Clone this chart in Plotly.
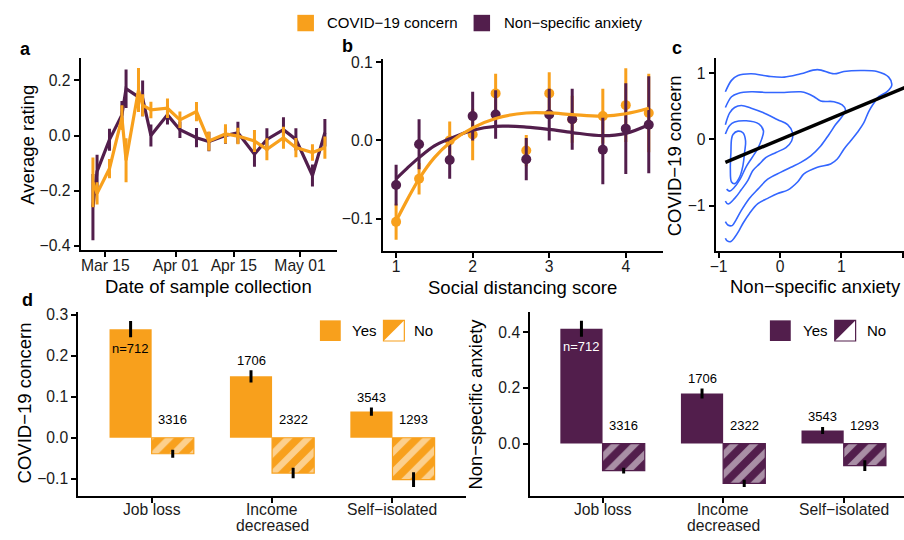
import plotly.graph_objects as go

ORANGE = "#F8A01C"
PURPLE = "#521E4C"
BLUE = "#3366FF"
FONT = "Liberation Sans"

# ---------------- panel a: time series ----------------
dates = ["2020-03-12", "2020-03-13", "2020-03-16", "2020-03-19", "2020-03-20",
         "2020-03-23", "2020-03-24", "2020-03-26", "2020-03-30", "2020-04-02",
         "2020-04-06", "2020-04-09", "2020-04-13", "2020-04-16", "2020-04-20",
         "2020-04-23", "2020-04-27", "2020-04-30", "2020-05-04", "2020-05-07"]
covid_a = [-0.17, -0.21, -0.12, 0.065, -0.09, 0.165, 0.11, 0.093, 0.099, 0.057,
           0.087, -0.02, 0.006, -0.002, -0.02, -0.05, -0.008, -0.044, -0.062, -0.044]
covid_a_err = [0.09, 0.04, 0.035, 0.045, 0.08, 0.08, 0.04, 0.03, 0.035, 0.03,
               0.035, 0.035, 0.035, 0.03, 0.04, 0.04, 0.04, 0.035, 0.03, 0.04]
anx_a = [-0.26, -0.13, -0.015, 0.075, 0.17, 0.14, 0.135, 0.0, 0.075, 0.021,
         -0.008, -0.022, 0.0, 0.01, -0.068, -0.014, 0.021, -0.014, -0.145, 0.01]
anx_a_err = [0.12, 0.06, 0.04, 0.05, 0.07, 0.05, 0.065, 0.04, 0.035, 0.03,
             0.035, 0.035, 0.03, 0.04, 0.045, 0.04, 0.045, 0.04, 0.04, 0.05]
a_tickvals = ["2020-03-15", "2020-04-01", "2020-04-15", "2020-05-01"]
a_ticktext = ["Mar 15", "Apr 01", "Apr 15", "May 01"]

# ---------------- panel b: social distancing ----------------
sd_x = [1, 1.3, 1.7, 2, 2.3, 2.7, 3, 3.3, 3.7, 4, 4.3]
covid_b = [-0.104, -0.049, 0.0, 0.0075, 0.06, -0.013, 0.06, 0.027, 0.031, 0.045, 0.035]
covid_b_err = [0.023, 0.02, 0.024, 0.033, 0.025, 0.02, 0.027, 0.03, 0.035, 0.047, 0.05]
anx_b = [-0.057, -0.005, -0.025, 0.031, 0.033, -0.024, 0.033, 0.027, -0.012, 0.015, 0.02]
anx_b_err = [0.026, 0.032, 0.024, 0.031, 0.031, 0.027, 0.033, 0.039, 0.044, 0.058, 0.062]
curve_x = [1, 1.15, 1.3, 1.5, 1.7, 2.0, 2.3, 2.7, 3.0, 3.3, 3.7, 4.0, 4.3]
covid_curve = [-0.103, -0.075, -0.049, -0.022, -0.003, 0.016, 0.028, 0.035, 0.035, 0.033, 0.031, 0.034, 0.041]
anx_curve = [-0.049, -0.035, -0.022, -0.007, 0.002, 0.013, 0.018, 0.017, 0.014, 0.01, 0.006, 0.009, 0.02]

# ---------------- panel c: density contours ----------------
c1_x = [-0.89, -0.79, -0.685, -0.469, -0.2, 0.07, 0.339, 0.609, 0.879, 1.04, 1.31, 1.58, 1.77, 1.82,
        1.74, 1.608, 1.527, 1.445, 1.364, 1.256, 1.149, 1.04, 0.933, 0.825, 0.609, 0.394, 0.286,
        0.124, -0.038, -0.2, -0.361, -0.5, -0.6, -0.67, -0.74, -0.8, -0.86, -0.89]
c1_y = [0.717, 0.889, 0.963, 0.988, 0.953, 0.938, 0.988, 1.052, 0.988, 1.023, 1.038, 1.023, 0.938, 0.815,
        0.717, 0.643, 0.544, 0.42, 0.247, 0.099, -0.024, -0.148, -0.296, -0.37, -0.42, -0.518, -0.642,
        -0.765, -0.815, -0.889, -0.97, -1.12, -1.26, -1.38, -1.48, -1.54, -1.53, -1.49]
c2_x = [-0.89, -0.79, -0.685, -0.469, -0.2, 0.07, 0.339, 0.447, 0.555, 0.663, 0.879, 1.013, 1.067,
        1.013, 0.906, 0.798, 0.663, 0.501, 0.339, 0.178, 0.016, -0.2, -0.36, -0.5, -0.63, -0.72,
        -0.78, -0.85, -0.89]
c2_y = [0.48, 0.643, 0.692, 0.717, 0.707, 0.707, 0.717, 0.692, 0.643, 0.578, 0.568, 0.519, 0.445,
        0.346, 0.223, 0.074, -0.099, -0.247, -0.346, -0.42, -0.494, -0.6, -0.75, -0.89, -1.07, -1.22,
        -1.3, -1.29, -1.24]
c3_x = [-0.89, -0.82, -0.74, -0.63, -0.469, -0.254, -0.038, 0.124, 0.205, 0.189, 0.097, -0.065,
        -0.227, -0.334, -0.442, -0.523, -0.631, -0.739, -0.846, -0.89]
c3_y = [0.22, 0.4, 0.48, 0.51, 0.47, 0.395, 0.297, 0.223, 0.099, -0.024, -0.123, -0.197,
        -0.272, -0.37, -0.469, -0.617, -0.76, -0.89, -0.975, -0.93]
c4_x = [-0.89, -0.82, -0.74, -0.55, -0.34, -0.27, -0.3, -0.37, -0.46, -0.55, -0.65, -0.75, -0.82, -0.87]
c4_y = [0.08, 0.21, 0.26, 0.28, 0.23, 0.13, 0.0, -0.15, -0.28, -0.41, -0.6, -0.73, -0.78, -0.75]
c5_x = [-0.79, -0.766, -0.685, -0.604, -0.561, -0.577, -0.604, -0.658, -0.739, -0.79, -0.809, -0.8, -0.79]
c5_y = [0.0, 0.074, 0.124, 0.099, -0.024, -0.197, -0.395, -0.568, -0.667, -0.642, -0.444, -0.197, 0.0]
fit_x = [-0.89, 2.1]
fit_y = [-0.345, 0.806]

# ---------------- panel d: bars ----------------
cats = ["Job loss", "Income decreased", "Self−isolated"]
cat_lines = [["Job loss"], ["Income", "decreased"], ["Self−isolated"]]
covid_yes = [0.265, 0.150, 0.064]
covid_yes_err = [0.02, 0.015, 0.01]
covid_no = [-0.039, -0.086, -0.102]
covid_no_err = [0.01, 0.013, 0.018]
anx_yes = [0.412, 0.180, 0.047]
anx_yes_err = [0.029, 0.018, 0.013]
anx_no = [-0.097, -0.143, -0.079]
anx_no_err = [0.01, 0.013, 0.019]
n_yes = [712, 1706, 3543]
n_no = [3316, 2322, 1293]

W, H = 904, 540
def fx(px):
    return px / W
def fy(py):
    return 1 - py / H

fig = go.Figure()

# panel a
fig.add_trace(go.Scatter(x=dates, y=anx_a, mode="lines", line=dict(color=PURPLE, width=3.2),
                         error_y=dict(type="data", array=anx_a_err, width=0, thickness=3, color=PURPLE),
                         xaxis="x", yaxis="y", showlegend=False))
fig.add_trace(go.Scatter(x=dates, y=covid_a, mode="lines", line=dict(color=ORANGE, width=3.2),
                         error_y=dict(type="data", array=covid_a_err, width=0, thickness=3, color=ORANGE),
                         xaxis="x", yaxis="y", showlegend=False))

# panel b
fig.add_trace(go.Scatter(x=sd_x, y=covid_b, mode="markers", marker=dict(color=ORANGE, size=10),
                         error_y=dict(type="data", array=covid_b_err, width=0, thickness=3, color=ORANGE),
                         xaxis="x2", yaxis="y2", showlegend=False))
fig.add_trace(go.Scatter(x=sd_x, y=anx_b, mode="markers", marker=dict(color=PURPLE, size=10),
                         error_y=dict(type="data", array=anx_b_err, width=0, thickness=3, color=PURPLE),
                         xaxis="x2", yaxis="y2", showlegend=False))
fig.add_trace(go.Scatter(x=curve_x, y=anx_curve, mode="lines", line=dict(color=PURPLE, width=3.2, shape="spline"),
                         xaxis="x2", yaxis="y2", showlegend=False))
fig.add_trace(go.Scatter(x=curve_x, y=covid_curve, mode="lines", line=dict(color=ORANGE, width=3.2, shape="spline"),
                         xaxis="x2", yaxis="y2", showlegend=False))

# panel c
for cx, cy in [(c1_x, c1_y), (c2_x, c2_y), (c3_x, c3_y), (c4_x, c4_y), (c5_x, c5_y)]:
    fig.add_trace(go.Scatter(x=cx, y=cy, mode="lines",
                             line=dict(color=BLUE, width=1.6, shape="spline", smoothing=1.0),
                             xaxis="x3", yaxis="y3", showlegend=False))
fig.add_trace(go.Scatter(x=fit_x, y=fit_y, mode="lines", line=dict(color="black", width=3.5),
                         xaxis="x3", yaxis="y3", showlegend=False))

# panel d bars
def hatch(color):
    return dict(color=color, line=dict(color=color, width=1.2),
                pattern=dict(shape="/", bgcolor=color, fgcolor="white", size=14, solidity=0.45))

ebar = dict(type="data", width=0, thickness=3, color="black")
fig.add_trace(go.Bar(x=cats, y=covid_yes, marker=dict(color=ORANGE, line=dict(width=0)),
                     error_y=dict(array=covid_yes_err, **ebar), offsetgroup="yes",
                     xaxis="x4", yaxis="y4", showlegend=False))
fig.add_trace(go.Bar(x=cats, y=covid_no, marker=hatch(ORANGE),
                     error_y=dict(array=covid_no_err, **ebar), offsetgroup="no",
                     xaxis="x4", yaxis="y4", showlegend=False))
fig.add_trace(go.Bar(x=cats, y=anx_yes, marker=dict(color=PURPLE, line=dict(width=0)),
                     error_y=dict(array=anx_yes_err, **ebar), offsetgroup="yes",
                     xaxis="x5", yaxis="y5", showlegend=False))
fig.add_trace(go.Bar(x=cats, y=anx_no, marker=hatch(PURPLE),
                     error_y=dict(array=anx_no_err, **ebar), offsetgroup="no",
                     xaxis="x5", yaxis="y5", showlegend=False))

annotations = []
shapes = []

def ann(text, x, y, size, **kw):
    d = dict(text=text, x=x, y=y, xref="paper", yref="paper", showarrow=False,
             xanchor="center", yanchor="middle",
             font=dict(family=FONT, size=size, color=kw.pop("color", "black")))
    d.update(kw)
    annotations.append(d)

# bar count labels
for ax, yes, yerr, inside_shift, inside_col in [("4", covid_yes, covid_yes_err, -19, "black"),
                                                ("5", anx_yes, anx_yes_err, -18, "white")]:
    for i, c in enumerate(cats):
        if i == 0:
            annotations.append(dict(text="n=%d" % n_yes[i], x=c, y=yes[i], xref="x" + ax, yref="y" + ax,
                                    xshift=-21, yshift=inside_shift, showarrow=False,
                                    xanchor="center", yanchor="middle",
                                    font=dict(family=FONT, size=13, color=inside_col)))
        else:
            annotations.append(dict(text=str(n_yes[i]), x=c, y=yes[i] + yerr[i], xref="x" + ax, yref="y" + ax,
                                    xshift=-21, yshift=10, showarrow=False,
                                    xanchor="center", yanchor="middle",
                                    font=dict(family=FONT, size=13, color="black")))
        annotations.append(dict(text=str(n_no[i]), x=c, y=0, xref="x" + ax, yref="y" + ax,
                                xshift=21, yshift=18, showarrow=False,
                                xanchor="center", yanchor="middle",
                                font=dict(family=FONT, size=13, color="black")))
    # category labels (tight line spacing like the reference)
    for i, c in enumerate(cats):
        for j, line in enumerate(cat_lines[i]):
            annotations.append(dict(text=line, x=c, y=fy(513 + 16 * j), xref="x" + ax, yref="paper",
                                    showarrow=False, xanchor="center", yanchor="middle",
                                    font=dict(family=FONT, size=15.7, color="#1a1a1a")))

# panel letters
for t, x, y in [("a", 20, 45), ("b", 344, 42), ("c", 675, 44), ("d", 22, 300)]:
    ann("<b>%s</b>" % t, fx(x), fy(y), 18)

# axis titles
TS = 18.5
ann("Average rating", fx(21.7), fy(142.5), TS, textangle=-90)
ann("Date of sample collection", fx(204), fy(286), TS)
ann("Social distancing score", fx(520), fy(287), TS)
ann("COVID−19 concern", fx(673), fy(153.3), TS, textangle=-90)
ann("Non−specific anxiety", fx(815), fy(286), TS)
ann("COVID−19 concern", fx(18.3), fy(405), TS, textangle=-90)
ann("Non−specific anxiety", fx(471.7), fy(405.8), TS, textangle=-90)

# top legend
def rect(x0, y0, x1, y1, fill, line=None):
    shapes.append(dict(type="rect", xref="paper", yref="paper", x0=fx(x0), x1=fx(x1), y0=fy(y1), y1=fy(y0),
                       fillcolor=fill, line=dict(color=line or fill, width=1.2 if line else 0)))

rect(293.3, 10, 310, 26.7, ORANGE)
ann("COVID−19 concern", fx(320.7), fy(18.3), 15, xanchor="left")
rect(470.7, 10, 487.3, 26.7, PURPLE)
ann("Non−specific anxiety", fx(499), fy(18.3), 15, xanchor="left")

# panel d legends
for col, yx0, ytx, nx0, ntx in [(ORANGE, 316, 346.7, 380, 409), (PURPLE, 769, 800, 834.3, 864.3)]:
    rect(yx0, 320.7, yx0 + 21, 341.7, col)
    ann("Yes", fx(ytx), fy(331.2), 15, xanchor="left")
    rect(nx0, 320.7, nx0 + 21, 341.7, "white", line=col)
    shapes.append(dict(type="path", xref="paper", yref="paper",
                       path="M %f,%f L %f,%f L %f,%f Z" % (fx(nx0), fy(320.7), fx(nx0 + 21), fy(320.7),
                                                          fx(nx0), fy(341.7)),
                       fillcolor=col, line=dict(width=0)))
    ann("No", fx(ntx), fy(331.2), 15, xanchor="left")

axis_common = dict(showline=True, linecolor="black", linewidth=1.8, ticks="outside", ticklen=5,
                   tickwidth=1.6, tickcolor="black", showgrid=False, zeroline=False,
                   tickfont=dict(family=FONT, size=15.7, color="#1a1a1a"), fixedrange=True)
xtick_extra = dict(ticklabelstandoff=-5)

fig.update_layout(
    width=W, height=H, margin=dict(l=0, r=0, t=0, b=0),
    paper_bgcolor="white", plot_bgcolor="white",
    barmode="group", bargap=0.3, bargroupgap=0,
    showlegend=False,
    xaxis=dict(domain=[fx(75), fx(333)], type="date", range=["2020-03-09", "2020-05-09 21:00"],
               tickvals=a_tickvals, ticktext=a_ticktext, anchor="y", **axis_common, **xtick_extra),
    yaxis=dict(domain=[fy(249), fy(54)], range=[-0.415, 0.281], tickvals=[-0.4, -0.2, 0, 0.2],
               tickformat=".1f", anchor="x", **axis_common),
    xaxis2=dict(domain=[fx(379.3), fx(661.7)], range=[0.826, 4.49], tickvals=[1, 2, 3, 4],
                anchor="y2", **axis_common, **xtick_extra),
    yaxis2=dict(domain=[fy(250), fy(55)], range=[-0.141, 0.1038], tickvals=[-0.1, 0, 0.1],
                tickformat=".1f", anchor="x2", **axis_common),
    xaxis3=dict(domain=[fx(714.3), 1.0], range=[-1.05, 2.02], tickvals=[-1, 0, 1, 2],
                anchor="y3", **axis_common, **xtick_extra),
    yaxis3=dict(domain=[fy(250), fy(54)], range=[-1.68, 1.225], tickvals=[-1, 0, 1],
                anchor="x3", **axis_common),
    xaxis4=dict(domain=[fx(72.7), fx(463)], type="category", range=[-0.61, 2.61],
                showticklabels=False, anchor="y4", **axis_common),
    yaxis4=dict(domain=[fy(499.3), fy(311.7)], range=[-0.142, 0.308], tickvals=[-0.1, 0, 0.1, 0.2, 0.3],
                tickformat=".1f", anchor="x4", **axis_common),
    xaxis5=dict(domain=[fx(527.7), 1.0], type="category", range=[-0.6, 2.5],
                showticklabels=False, anchor="y5", **axis_common),
    yaxis5=dict(domain=[fy(499.3), fy(311.7)], range=[-0.188, 0.474], tickvals=[0, 0.2, 0.4],
                tickformat=".1f", anchor="x5", **axis_common),
    annotations=annotations, shapes=shapes,
)

fig.write_html("out.html", config={"displayModeBar": False},
               post_script="document.body.style.margin='0';document.body.style.overflow='hidden';")
